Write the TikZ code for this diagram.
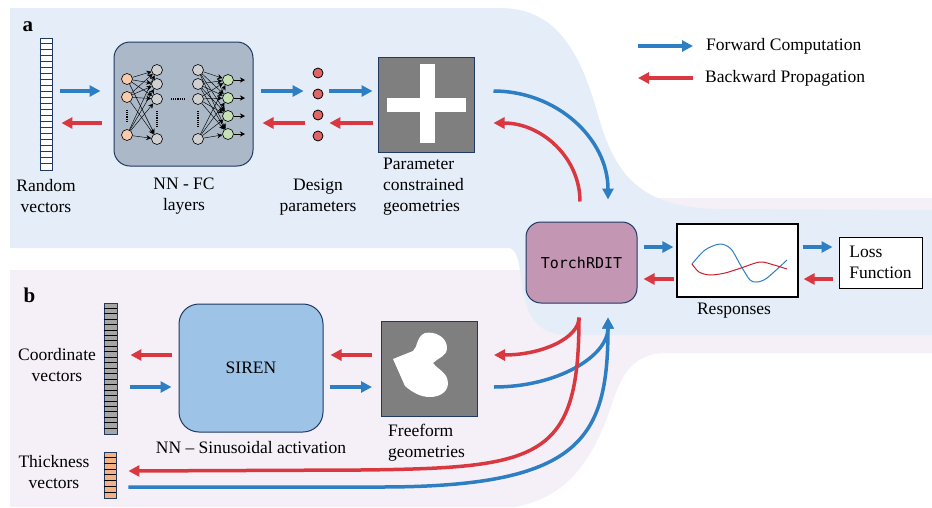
\documentclass[tikz,border=0pt]{standalone}
\usepackage{fontspec}
\setmainfont{Liberation Serif}
\setmonofont{DejaVu Sans Mono}
\usepackage{xcolor}
\usepackage{tikz}
\usetikzlibrary{arrows.meta, positioning, calc}

\definecolor{bgA}{HTML}{E4EDF8}
\definecolor{bgB}{HTML}{F5F0F7}
\definecolor{navy}{HTML}{203864}
\definecolor{fwdblue}{HTML}{2E7EC3}
\definecolor{bwdred}{HTML}{DA3840}
\definecolor{nnfill}{HTML}{ABB8C7}
\definecolor{rditfill}{HTML}{C397B3}
\definecolor{sirenfill}{HTML}{9DC3E6}
\definecolor{geogray}{HTML}{7F7F7F}
\definecolor{inorange}{HTML}{F8CBAD}
\definecolor{outgreen}{HTML}{C5E0B4}
\definecolor{hidgray}{HTML}{D0D0D0}
\definecolor{dpred}{HTML}{E06666}
\definecolor{thkorange}{HTML}{F4B183}
\definecolor{crdgray}{HTML}{A6A6A6}
\definecolor{respred}{HTML}{C8202E}

\tikzset{
  fwd/.style={draw=fwdblue, line width=3.5pt, -{Triangle[length=11pt,width=11pt]}},
  bwd/.style={draw=bwdred, line width=3.5pt, -{Triangle[length=11pt,width=11pt]}},
  ends/.style 2 args={shorten <=#1, shorten >=#2},
  lab/.style={inner sep=0pt, align=center},
  neuron/.style={circle, draw, line width=0.6pt, minimum size=11pt, inner sep=0pt},
  nnedge/.style={line width=0.45pt, -{Stealth[length=5pt,width=5pt]}},
  nndots/.style={line width=1.3pt, dash pattern=on 1.1pt off 1.1pt},
  vecbox/.style={draw=navy, line width=0.9pt, inner sep=0pt},
  cell/.style={line width=0.6pt},
  geobox/.style={draw=navy, fill=geogray, line width=1pt, minimum width=96pt, minimum height=95pt, inner sep=0pt},
  block/.style={draw=navy, line width=1pt, inner sep=0pt},
}

\begin{document}
\begin{tikzpicture}[x=1pt, y=-1pt, font=\fontsize{17.5}{21}\selectfont]
    \useasboundingbox (0,0) rectangle (932,507);

    % backgrounds of the two parts
    \fill[bgB] (10,270) -- (535,270) -- (535,240) .. controls (535,210) and (580,198) .. (640,198)
      -- (932,198) -- (932,353) -- (668,353) .. controls (638,353) and (625,368) .. (615,395)
      .. controls (600,440) and (580,495) .. (515,507) -- (10,507) -- cycle;
    \fill[bgA] (10,8) -- (500,8) .. controls (555,8) and (580,50) .. (598,115)
      .. controls (615,175) and (640,208) .. (720,209) -- (932,210) -- (932,335) -- (570,335)
      .. controls (535,335) and (527,315) .. (522,285) .. controls (519,262) and (518,252) .. (510,248)
      -- (10,248) -- cycle;

    \node[font=\fontsize{21}{24}\selectfont\bfseries] (pa) at (28,27) {a};
    \node[font=\fontsize{21}{24}\selectfont\bfseries] (pb) at (29.5,295.5) {b};

    % rows of the straight arrows
    \coordinate (ra) at (0,91);
    \coordinate (rb) at (0,123);
    \coordinate (rc) at (0,247);
    \coordinate (rd) at (0,279);
    \coordinate (re) at (0,355);
    \coordinate (rf) at (0,387);

    % a: random vectors
    \node[vecbox, fill=white, minimum width=12pt, minimum height=132pt] (rv) at (46,104) {};
    \foreach \k in {1,...,21}
      \draw[cell, navy] ([yshift=-\k*6pt]rv.north west) -- ([yshift=-\k*6pt]rv.north east);
    \node[lab] (rvlab) at (46,196.5) {Random\\vectors};

    % a: fully connected network
    \node[block, fill=nnfill, rounded corners=16pt, minimum width=139pt, minimum height=124pt] (nn) at (183.5,104) {};
    \foreach \n/\y in {1/79,2/97,3/135}
      \node[neuron, fill=inorange] (i\n) at (127,\y) {};
    \foreach \n/\y in {1/70,2/84,3/99,4/139} {
      \node[neuron, fill=hidgray] (h\n) at (157,\y) {};
      \node[neuron, fill=hidgray] (g\n) at (198,\y) {};
    }
    \foreach \n/\y in {1/80,2/98,3/116,4/134}
      \node[neuron, fill=outgreen] (o\n) at (228,\y) {};
    \foreach \a in {1,2,3}
      \foreach \b in {1,...,4}
        \draw[nnedge] (i\a) -- (h\b);
    \foreach \a in {1,...,4}
      \foreach \b in {1,...,4}
        \draw[nnedge] (g\a) -- (o\b);
    \foreach \b in {1,...,4}
      \draw[nnedge] (o\b) -- ++(17,0);
    \draw[nndots] ([yshift=-7pt]i2.south) -- ([yshift=7pt]i3.north);
    \draw[nndots] ([yshift=-6pt]h3.south) -- ([yshift=6pt]h4.north);
    \draw[nndots] ([yshift=-6pt]g3.south) -- ([yshift=6pt]g4.north);
    \draw[nndots, shorten <=8pt, shorten >=8pt] (h3.east) -- (g3.west);
    \node[lab] (nnlab) at (184,196.5) {NN - FC\\layers};

    % a: design parameters
    \foreach \n/\y in {1/73,2/94,3/115,4/136}
      \node[circle, draw, fill=dpred, line width=0.8pt, minimum size=10pt, inner sep=0pt] (p\n) at (318,\y) {};
    \node[lab] (dplab) at (318,197.5) {Design\\parameters};

    % a: parameter constrained geometry
    \node[geobox] (geo) at (426,104.5) {};
    \fill[white] (420,64) rectangle (435,143);
    \fill[white] (387,98) rectangle (466,112);
    \node[lab, align=left, anchor=west] (geolab) at (383,187) {Parameter\\constrained\\geometries};

    \draw[fwd, ends={8pt}{13pt}] (rv.east |- ra) -- (nn.west |- ra);
    \draw[bwd, ends={12pt}{9pt}] (nn.west |- rb) -- (rv.east |- rb);
    \draw[fwd, ends={7pt}{9pt}] (nn.east |- ra) -- (p1.west |- ra);
    \draw[bwd, ends={8pt}{9pt}] (p1.west |- rb) -- (nn.east |- rb);
    \draw[fwd, ends={6pt}{5pt}] (p1.east |- ra) -- (geo.west |- ra);
    \draw[bwd, ends={5pt}{6pt}] (geo.west |- rb) -- (p1.east |- rb);

    % solver and responses
    \node[block, fill=rditfill, rounded corners=15pt, minimum width=111pt, minimum height=81pt,
      font=\ttfamily\fontsize{15}{18}\selectfont] (rdit) at (581.5,262.5) {TorchRDIT};
    \node[draw, line width=1.2pt, fill=white, minimum width=121pt, minimum height=73pt, inner sep=0pt] (resp) at (737.5,260.5) {};
    \draw[fwdblue, line width=1pt] plot[smooth] coordinates {(692,264) (705,250) (720,244) (731,249) (741,266) (750,280) (757,282) (767,278) (787,260)};
    \draw[respred, line width=1pt] plot[smooth] coordinates {(692,264) (699,272) (710,275) (725,273) (741,268) (760,262) (774,265) (787,269)};
    \node[lab] (resplab) at (734,311) {Responses};
    \node[draw, line width=1pt, fill=white, minimum width=83pt, minimum height=51pt, align=left] (loss) at (880.5,262.5) {Loss\\Function};

    \draw[fwd, ends={6pt}{3pt}] (rdit.east |- rc) -- (resp.west |- rc);
    \draw[bwd, ends={2pt}{6pt}] (resp.west |- rd) -- (rdit.east |- rd);
    \draw[fwd, ends={4pt}{6pt}] (resp.east |- rc) -- (loss.west |- rc);
    \draw[bwd, ends={6pt}{5pt}] (loss.west |- rd) -- (resp.east |- rd);

    \draw[fwd] ([xshift=19pt]geo.east |- ra) .. controls +(63,0) and +(0,-61) .. ([shift={(26.5pt,22pt)}]rdit.north);
    \draw[bwd] ([shift={(-1.5pt,20pt)}]rdit.north) .. controls +(0,-44) and +(48,0) .. ([xshift=19pt]geo.east |- rb);

    % legend
    \node[lab, anchor=west] (fwdlab) at (706,46) {Forward Computation};
    \node[lab, anchor=west] (bwdlab) at (705,78) {Backward Propagation};
    \draw[fwd] ([xshift=-68pt]fwdlab.west) -- ([xshift=-13pt]fwdlab.west);
    \draw[bwd] ([xshift=-12pt]bwdlab.west) -- ([xshift=-67pt]bwdlab.west);

    % b: coordinate and thickness vectors
    \node[vecbox, fill=crdgray, minimum width=13pt, minimum height=131pt] (cv) at (110.5,368.5) {};
    \foreach \k in {1,...,23}
      \draw[cell] ([yshift=-\k*5.458pt]cv.north west) -- ([yshift=-\k*5.458pt]cv.north east);
    \node[lab] (cvlab) at (57,365.5) {Coordinate\\vectors};
    \node[vecbox, fill=thkorange, minimum width=12pt, minimum height=46pt] (tv) at (110,475) {};
    \foreach \k in {1,...,7}
      \draw[cell] ([yshift=-\k*5.75pt]tv.north west) -- ([yshift=-\k*5.75pt]tv.north east);
    \node[lab] (tvlab) at (54,472.5) {Thickness\\vectors};

    % b: SIREN and freeform geometry
    \node[block, fill=sirenfill, rounded corners=20pt, minimum width=144pt, minimum height=128pt] (siren) at (251,368) {SIREN};
    \node[lab] (sirenlab) at (251,448) {NN -- Sinusoidal activation};
    \node[geobox] (ff) at (429.5,368.5) {};
    \fill[white] (393,359) -- (413,351) .. controls (418,347) and (416,337) .. (425,333)
      .. controls (435,331) and (447,337) .. (447,348) .. controls (447,356) and (438,358) .. (433,363)
      .. controls (438,370) and (448,372) .. (448,384) .. controls (447,394) and (437,397) .. (430,397)
      .. controls (420,397) and (412,392) .. (405,386) -- cycle;
    \node[lab, align=left, anchor=west] (fflab) at (388,442.5) {Freeform\\geometries};

    \draw[bwd, ends={7pt}{13pt}] (siren.west |- re) -- (cv.east |- re);
    \draw[fwd, ends={13pt}{7pt}] (cv.east |- rf) -- (siren.west |- rf);
    \draw[bwd, ends={9pt}{7pt}] (ff.west |- re) -- (siren.east |- re);
    \draw[fwd, ends={6pt}{9pt}] (siren.east |- rf) -- (ff.west |- rf);

    \draw[bwd] ([shift={(-2.5pt,-14pt)}]rdit.south) .. controls +(0,21) and +(47,0) .. ([xshift=16pt]ff.east |- re);
    \draw[fwd] ([xshift=16pt]ff.east |- rf) .. controls +(63,0) and +(0,39) .. ([shift={(26.5pt,-14pt)}]rdit.south);
    \draw[bwd] ([shift={(-2.5pt,-14pt)}]rdit.south) .. controls (579,460) and (540,468) .. (360,470)
      -- ([shift={(12pt,4pt)}]tv.east);
    \draw[fwd] ([shift={(12pt,-12pt)}]tv.east) -- (380,487) .. controls (580,487) and (608,440)
      .. ([shift={(26.5pt,-14pt)}]rdit.south);
\end{tikzpicture}
\end{document}
